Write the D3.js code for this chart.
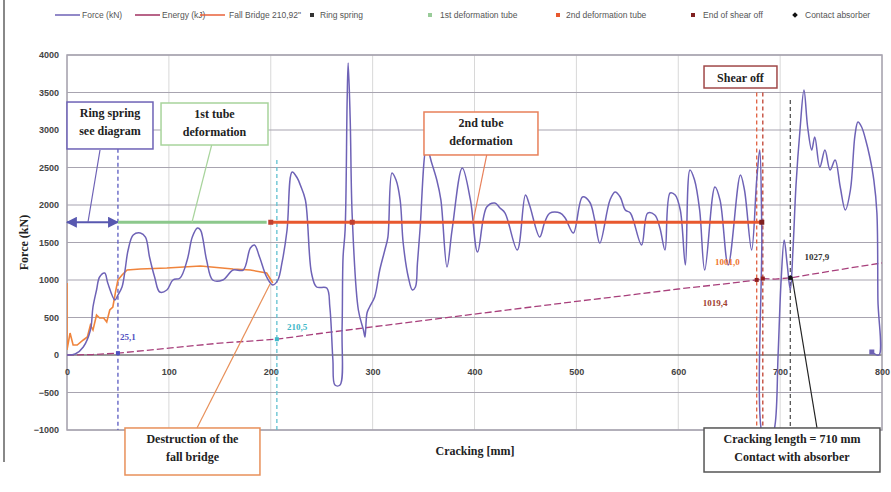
<!DOCTYPE html>
<html lang="en">
<head>
<meta charset="utf-8">
<title>Force and energy over cracking length</title>
<script src="https://d3js.org/d3.v7.min.js"></script>
<style>
  body { margin: 0; background: #fff; }
  svg { display: block; }
  .tick text { font-family: "Liberation Sans", Arial, sans-serif; font-size: 9px; font-weight: bold; fill: #444; }
  .note { font-family: "Liberation Serif", "Times New Roman", serif; font-weight: bold; font-size: 12px; fill: #222; text-anchor: middle; }
  .legend text { font-family: "Liberation Sans", Arial, sans-serif; font-size: 8.5px; fill: #555; }
  .val { font-family: "Liberation Serif", serif; font-weight: bold; font-size: 9px; }
</style>
</head>
<body>
<svg width="891" height="492"></svg>
<script>
// axis ticks
const xTicks = [0, 100, 200, 300, 400, 500, 600, 700, 800];
const yTicks = [-1000, -500, 0, 500, 1000, 1500, 2000, 2500, 3000, 3500, 4000];

// Force (kN) over cracking length (mm)
const force = [
  [0,0],[8,13],[16,107],[23,333],[25.5,640],[29,867],[32,1040],[37,1093],[40,960],[47,733],
  [50,800],[54,907],[57,1133],[60,1400],[65,1600],[72,1627],[77,1573],[81,1307],[86,1040],[91,840],
  [98,867],[104,1000],[111,1027],[118,1267],[123,1573],[128,1693],[131,1667],[137,1267],[143,1000],[153,1000],
  [163,1133],[173,1133],[180,1427],[184,1467],[189,1307],[196,1040],[202,933],[207,1000],[211,1227],[216,1667],
  [221,2440],[226,2360],[229,2267],[234,2067],[240,1093],[245,907],[255,893],[258,640],[261,-67],[263,-400],
  [268,-400],[270,333],[271,1307],[273,1667],[275,3400],[276,3893],[278,3133],[280,1840],[286,600],[291,333],
  [292.5,240],[294.5,560],[297,640],[302,773],[307,1133],[312,1400],[315,1573],[319,2427],[323,2333],[327,2067],
  [330,1493],[335,1040],[339,867],[342,907],[344,1227],[346.5,1667],[353,2773],[358,2560],[363,2333],[367,2067],
  [373,1173],[378,1667],[388,2493],[396,2067],[403,1373],[412,1973],[420,2027],[425,1960],[430,1893],[442,1400],
  [450,2133],[454,2000],[464,1573],[469,1773],[474,1893],[484,1893],[489,1827],[497,1627],[506,2107],[513,2040],
  [518,1800],[523,1493],[533,2067],[538,2173],[543,2107],[548,1933],[553,1893],[564,1467],[570,1893],[577,1867],
  [582,1693],[587,1400],[592,2160],[597,2133],[602,1933],[607,1200],[611.5,2467],[616,2333],[621,1933],[626,1133],
  [636,2240],[641,2067],[649,1200],[661,2400],[665,2200],[672,1400],[677,2333],[680,2733],[682,1667],[684,-1150],
  [690,-1200],[695,-933],[698,0],[701,1000],[704,1533],[707,1200],[710,867],[712.6,1400],[715.6,2267],[719.5,3000],
  [723.4,3533],[727,3040],[731,2733],[734,2907],[739,2507],[744,2733],[749,2467],[754,2600],[759,2240],[764,1933],
  [769,2200],[773.5,2933],[776.4,3107],[780,3040],[784,2867],[788,2640],[792,2333],[795,1893],[796,733],[797,0],
  [790,40]
];

// Energy (kJ) over cracking length (mm)
const energy = [
  [0,0],[25,6],[50,25.1],[100,92],[150,158],[206,210.5],[250,290],[300,375],[350,460],[400,545],
  [450,630],[500,715],[550,795],[600,880],[650,955],[677,1001],[683,1019.4],[695,1012],[710,1027.9],
  [750,1120],[800,1228]
];

// Fall bridge 210,92
const fallBridge = [
  [0,960],[0,67],[3,293],[6,133],[10,133],[16,200],[20,240],[23,400],[25.5,333],[29,533],
  [32,493],[36,493],[39,440],[42,600],[45,640],[48,867],[50,1000],[54,1067],[59,1133],[72,1147],
  [98,1160],[131,1187],[163,1147],[180,1133],[196,1093],[202,960]
];

// phase lines (mm) at the phase level (kN)
const phaseLevel = 1770;
const phases = [
  { name: "Ring spring", from: 0, to: 50 },
  { name: "1st deformation tube", from: 50, to: 196 },
  { name: "2nd deformation tube", from: 200, to: 682 }
];

// vertical event lines (mm)
const events = [
  { name: "Ring spring", at: 50 },
  { name: "1st deformation tube", at: 206 },
  { name: "Start of shear off", at: 677 },
  { name: "End of shear off", at: 683 },
  { name: "Contact absorber", at: 710 }
];

// energy readings at events
const energyLabels = [
  { at: 50, value: 25.1, text: "25,1" },
  { at: 206, value: 210.5, text: "210,5" },
  { at: 677, value: 1001.0, text: "1001,0" },
  { at: 683, value: 1019.4, text: "1019,4" },
  { at: 710, value: 1027.9, text: "1027,9" }
];

const legendLabels = ["Force (kN)", "Energy (kJ)", "Fall Bridge 210,92\"", "Ring spring",
  "1st deformation tube", "2nd deformation tube", "End of shear off", "Contact absorber"];

const svg = d3.select("svg");

const x = d3.scaleLinear().domain([0, 800]).range([67, 882]);
const y = d3.scaleLinear().domain([-1000, 4000]).range([430, 55]);

// page edge line
svg.append("line")
  .attr("x1", 4).attr("x2", 4).attr("y1", 0).attr("y2", 462)
  .attr("stroke", "#888").attr("stroke-width", 2);

// gridlines
svg.append("g").selectAll("line")
  .data(xTicks)
  .join("line")
  .attr("x1", d => x(d)).attr("x2", d => x(d))
  .attr("y1", y(4000)).attr("y2", y(-1000))
  .attr("stroke", "#d8d8d8");

svg.append("g").selectAll("line")
  .data(yTicks)
  .join("line")
  .attr("x1", x(0)).attr("x2", x(800))
  .attr("y1", d => y(d)).attr("y2", d => y(d))
  .attr("stroke", d => d === 0 ? "#777" : "#a8a4b0")
  .attr("stroke-width", d => d === 0 ? 1.5 : 1.2);

svg.append("rect")
  .attr("x", x(0)).attr("y", y(4000))
  .attr("width", x(800) - x(0)).attr("height", y(-1000) - y(4000))
  .attr("fill", "none").attr("stroke", "#a8a4b0").attr("stroke-width", 1.5);

// axes
svg.append("g")
  .attr("transform", "translate(" + x(0) + ",0)")
  .call(d3.axisLeft(y).tickValues(yTicks).tickFormat(d3.format("d")).tickSize(0).tickPadding(8))
  .call(g => g.select(".domain").remove());

svg.append("g")
  .attr("transform", "translate(0," + y(0) + ")")
  .call(d3.axisBottom(x).tickValues(xTicks).tickFormat(d3.format("d")).tickSize(0).tickPadding(14))
  .call(g => g.select(".domain").remove());

// axis titles
svg.append("text")
  .attr("class", "note")
  .attr("font-size", 11)
  .attr("transform", "translate(28," + y(1500) + ") rotate(-90)")
  .text("Force (kN)");

svg.append("text")
  .attr("class", "note")
  .attr("font-size", 11)
  .attr("x", 475).attr("y", 455)
  .text("Cracking [mm]");

// clip
svg.append("clipPath").attr("id", "plot")
  .append("rect")
  .attr("x", x(0)).attr("y", y(4000))
  .attr("width", x(800) - x(0)).attr("height", y(-1000) - y(4000));

const plot = svg.append("g").attr("clip-path", "url(#plot)");

const line = d3.line().x(d => x(d[0])).y(d => y(d[1]));
const smooth = d3.line().x(d => x(d[0])).y(d => y(d[1])).curve(d3.curveCatmullRom.alpha(0.5));

// vertical event lines
const eventColor = ["#5a5ac0", "#60c0d0", "#e06040", "#c04030", "#555"];
const eventTop = [2750, 2600, 3500, 3500, 3400];
plot.selectAll(".event")
  .data(events)
  .join("line")
  .attr("class", "event")
  .attr("x1", d => x(d.at)).attr("x2", d => x(d.at))
  .attr("y1", (d, i) => y(eventTop[i])).attr("y2", y(-1000))
  .attr("stroke", (d, i) => eventColor[i])
  .attr("stroke-width", 1.3)
  .attr("stroke-dasharray", "4,3");

// energy
plot.append("path")
  .datum(energy)
  .attr("d", line)
  .attr("fill", "none")
  .attr("stroke", "#a8407c")
  .attr("stroke-width", 1.3)
  .attr("stroke-dasharray", "7,3");

// fall bridge
plot.append("path")
  .datum(fallBridge)
  .attr("d", line)
  .attr("fill", "none")
  .attr("stroke", "#f0843c")
  .attr("stroke-width", 1.6);

// force
plot.append("path")
  .datum(force)
  .attr("d", smooth)
  .attr("fill", "none")
  .attr("stroke", "#6e62b6")
  .attr("stroke-width", 1.5)
  .attr("stroke-linejoin", "round");

// phase lines
const phaseColor = ["#5858b0", "#8cc88c", "#e8582e"];
const phaseWidth = [2.2, 3, 3];
svg.append("defs").html(
  '<marker id="arr" viewBox="0 0 10 10" refX="9" refY="5" markerWidth="5" markerHeight="5" orient="auto-start-reverse">' +
  '<path d="M0,0 L10,5 L0,10 z" fill="#5858b0"/></marker>');

svg.selectAll(".phase")
  .data(phases)
  .join("line")
  .attr("class", "phase")
  .attr("x1", d => x(d.from)).attr("x2", d => x(d.to))
  .attr("y1", y(phaseLevel)).attr("y2", y(phaseLevel))
  .attr("stroke", (d, i) => phaseColor[i])
  .attr("stroke-width", (d, i) => phaseWidth[i])
  .attr("marker-start", (d, i) => i === 0 ? "url(#arr)" : null)
  .attr("marker-end", (d, i) => i === 0 ? "url(#arr)" : null);

svg.selectAll(".pdot")
  .data([200, 280, 682])
  .join("rect")
  .attr("class", "pdot")
  .attr("x", d => x(d) - 2.5).attr("y", y(phaseLevel) - 2.5)
  .attr("width", 5).attr("height", 5)
  .attr("fill", (d, i) => i === 2 ? "#802020" : "#c04030");

// energy event markers and labels
const labelColor = ["#5050c0", "#40b8c8", "#f07830", "#a04030", "#333"];
const labelPos = [[52, 200], [216, 333], [636, 1200], [624, 653], [724, 1267]];
svg.selectAll(".emark")
  .data(energyLabels)
  .join("rect")
  .attr("class", "emark")
  .attr("x", d => x(d.at) - 2).attr("y", d => y(d.value) - 2)
  .attr("width", 4).attr("height", 4)
  .attr("fill", (d, i) => i === 4 ? "#111" : (i >= 2 ? "#902020" : labelColor[i]));

svg.selectAll(".elabel")
  .data(energyLabels)
  .join("text")
  .attr("class", "val")
  .attr("x", (d, i) => x(labelPos[i][0])).attr("y", (d, i) => y(labelPos[i][1]))
  .attr("fill", (d, i) => labelColor[i])
  .text(d => d.text);

svg.append("rect")
  .attr("x", x(790) - 2.5).attr("y", y(40) - 2.5)
  .attr("width", 5).attr("height", 5).attr("fill", "#6e62b6");

// annotation boxes: [mm left, mm right, kN top, kN bottom]
const notes = [
  { lines: ["Ring spring", "see diagram"], box: [0, 84.4, 3373, 2747], color: "#6e62b6", from: [32.4, 2733], to: [20.6, phaseLevel] },
  { lines: ["1st tube", "deformation"], box: [92.3, 197.3, 3360, 2800], color: "#a8d49c", from: [142, 2800], to: [122.7, phaseLevel] },
  { lines: ["2nd tube", "deformation"], box: [350.4, 462.3, 3240, 2667], color: "#e8805a", from: [412, 2667], to: [398.5, phaseLevel] },
  { lines: ["Shear off"], box: [625.3, 696.9, 3853, 3560], color: "#a04848", from: null, to: null },
  { lines: ["Destruction of the", "fall bridge"], box: [56.9, 189.4, -973, -1600], color: "#e8905a", from: [127.6, -973], to: [199.3, 947] },
  { lines: ["Cracking length = 710 mm", "Contact with absorber"], box: [625.3, 798, -973, -1560], color: "#555", from: [736.2, -973], to: [711.7, 1040] }
];

notes.forEach(n => {
  const g = svg.append("g");
  if (n.from) {
    g.append("line")
      .attr("x1", x(n.from[0])).attr("y1", y(n.from[1]))
      .attr("x2", x(n.to[0])).attr("y2", y(n.to[1]))
      .attr("stroke", n.color === "#555" ? "#222" : n.color)
      .attr("stroke-width", 1.2);
  }
  g.append("rect")
    .attr("x", x(n.box[0])).attr("y", y(n.box[2]))
    .attr("width", x(n.box[1]) - x(n.box[0]))
    .attr("height", y(n.box[3]) - y(n.box[2]))
    .attr("fill", "#fff")
    .attr("stroke", n.color)
    .attr("stroke-width", 1.5);
  const cx = (x(n.box[0]) + x(n.box[1])) / 2;
  n.lines.forEach((t, i) => {
    g.append("text")
      .attr("class", "note")
      .attr("x", cx)
      .attr("y", y(n.box[2]) + (n.lines.length === 1 ? 16 : 15 + i * 18))
      .text(t);
  });
});

// legend
const legendX = [55, 135, 200, 312, 430, 558, 693, 795];
const legendTextX = [82, 162, 229, 320, 440, 566, 703, 805];
const legendColor = ["#6e62b6", "#a03060", "#e8603a", "#333", "#9c9", "#e8582e", "#802020", "#111"];
const lg = svg.append("g").attr("class", "legend");
legendLabels.forEach((t, i) => {
  if (i < 3) {
    lg.append("line")
      .attr("x1", legendX[i]).attr("x2", legendX[i] + 25)
      .attr("y1", 15).attr("y2", 15)
      .attr("stroke", legendColor[i]).attr("stroke-width", 1.5);
  } else {
    lg.append("rect")
      .attr("x", legendX[i] - 2).attr("y", 13)
      .attr("width", 4).attr("height", 4)
      .attr("fill", legendColor[i])
      .attr("transform", i === 7 ? "rotate(45," + legendX[i] + ",15)" : null);
  }
  lg.append("text")
    .attr("x", legendTextX[i]).attr("y", 18)
    .text(t);
});
</script>
</body>
</html>
